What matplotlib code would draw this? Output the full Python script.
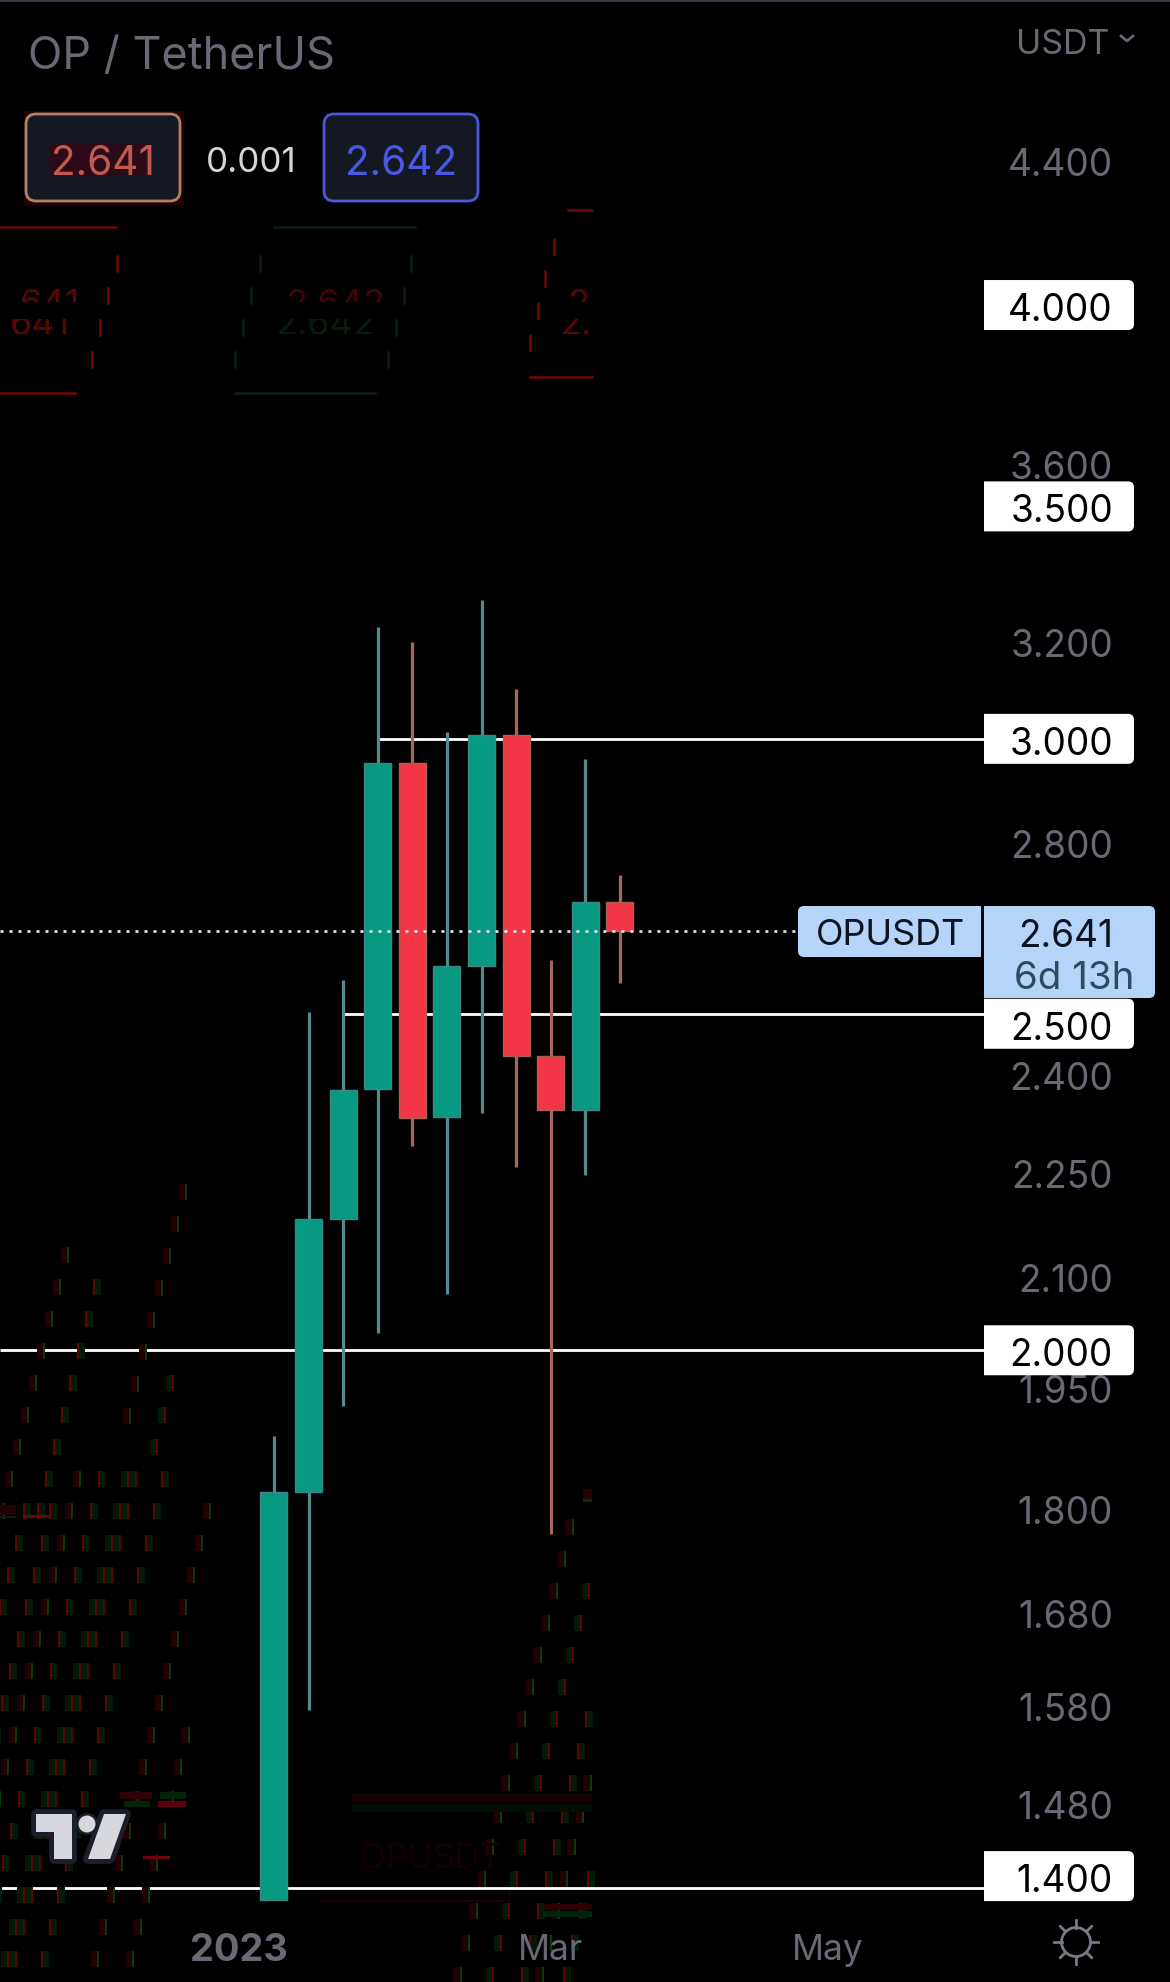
import matplotlib
matplotlib.use("Agg")
import matplotlib.pyplot as plt
from matplotlib.patches import Circle, FancyBboxPatch, PathPatch, Polygon, Rectangle
from matplotlib.path import Path
from matplotlib.transforms import Bbox

plt.rcParams['font.family'] = ['Inter', 'DejaVu Sans']

W, H = 1170, 1983

# weekly candles
idx = list(range(11))
opens = [1.389, 1.820, 2.182, 2.378, 2.953, 2.335, 2.580, 3.008, 2.431, 2.345, 2.692]
closes = [1.820, 2.182, 2.376, 2.953, 2.333, 2.580, 3.008, 2.431, 2.345, 2.692, 2.641]
highs = [1.890, 2.503, 2.556, 3.230, 3.200, 3.013, 3.290, 3.100, 2.591, 2.960, 2.741]
lows = [1.389, 1.576, 1.927, 2.023, 2.290, 2.076, 2.341, 2.258, 1.770, 2.247, 2.552]

# price axis
axis_ticks = [4.400, 3.600, 3.200, 2.800, 2.400, 2.250, 2.100, 1.950, 1.800, 1.680, 1.580, 1.480]
levels = [4.000, 3.500, 3.000, 2.500, 2.000, 1.400]
level_shift = [0, 0, 0, 10, 0, -12]      # labels pushed away by their neighbours
level_start = [None, None, 3, 2, -8, -8]  # candle where the drawn line begins
last_price = 2.641

# time axis
time_pos = [-1, 8, 16]
time_labels = ['2023', 'Mar', 'May']

GREEN = '#089981'
RED = '#f23645'
GREEN_WICK = '#55898c'
RED_WICK = '#a5695c'
GRAY = '#676a75'
LABEL_BLUE = '#b4d5f9'

fig = plt.figure(figsize=(W / 100, H / 100), dpi=100, facecolor='black')

# price chart, log scale, fills the whole picture
ax = fig.add_axes([0, 0, 1, 1], facecolor='black')
ax.set_yscale('log')
ax.set_ylim(1.3155, 4.90)
ax.set_xlim(-7.919, 25.896)
ax.axis('off')

# pixel overlay for the interface bits
ui = fig.add_axes([0, 0, 1, 1], facecolor='none')
ui.set_xlim(0, W)
ui.set_ylim(H, 0)
ui.axis('off')


def py(price):
    return H - ax.transData.transform((0, price))[1]


def fs(px):
    return px * 0.72


# ghost traces from the screenshot
GHOST_RED = '#5e0409'
GHOST_RED_DIM = '#220103'
GHOST_GREEN = '#0a3814'
GHOST_GREEN_DIM = '#021a08'

# x, y of the first tick, kind, last y
ghost_diags = [
    (23, 1512, 1, H), (49, 1512, 1, H), (79, 1480, 0, H), (98, 1480, 1, H),
    (127, 1480, 2, H), (135, 1480, 2, H), (161, 1480, 1, H), (209, 1512, 0, H),
    (67, 1256, 0, 1512), (93, 1288, 1, 1512), (185, 1193, 0, 1448), (172, 1384, 2, 1448),
    (188, 1736, 0, H),
    (572, 1528, 0, H), (588, 1592, 2, H), (585, 1720, 1, H), (590, 1784, 0, H), (587, 1880, 1, H),
]
for gx, gy, kind, y_last in ghost_diags:
    while gy < min(H - 6, y_last + 1) and gx > -8:
        if kind == 0:
            ui.add_patch(Rectangle((gx - 6, gy - 8), 6, 16, fc=GHOST_RED_DIM, ec='none', zorder=1))
            ui.add_patch(Rectangle((gx, gy - 8), 2, 16, fc=GHOST_GREEN, ec='none', zorder=1))
        elif kind == 1:
            ui.add_patch(Rectangle((gx + 2, gy - 8), 6, 16, fc=GHOST_GREEN_DIM, ec='none', zorder=1))
            ui.add_patch(Rectangle((gx, gy - 8), 2, 16, fc=GHOST_RED, ec='none', zorder=1))
        else:
            ui.add_patch(Rectangle((gx - 6, gy - 8), 6, 16, fc=GHOST_GREEN_DIM, ec='none', zorder=1))
            ui.add_patch(Rectangle((gx, gy - 8), 2, 16, fc=GHOST_RED, ec='none', zorder=1))
        gy += 32
        gx -= 8

ghost_bands = [
    (352, 592, 1794, 1804, '#120002'), (352, 592, 1805, 1813, '#000e03'),
    (120, 152, 1793, 1800, '#2c0205'), (160, 186, 1793, 1800, '#042408'),
    (124, 150, 1802, 1808, '#042408'), (158, 186, 1802, 1808, '#5a030c'),
    (143, 170, 1857, 1860, '#6a0510'), (0, 16, 1506, 1516, '#220103'),
    (23, 50, 1516, 1519, '#6a0510'), (0, 16, 1517, 1519, '#042408'),
    (543, 592, 1905, 1911, '#2c0205'), (543, 592, 1912, 1918, '#042408'),
    (583, 592, 1490, 1500, '#220103'), (583, 592, 1500, 1503, '#063010'),
]
for x0, x1, y0, y1, col in ghost_bands:
    ui.add_patch(Rectangle((x0, y0), x1 - x0, y1 - y0, fc=col, ec='none', zorder=1))

ui.plot([322, 510, 510], [1902, 1902, 1892], color='#1a0003', lw=1.2, zorder=1)
ui.text(360, 1868, 'OPUSDT', fontsize=fs(34), color='#140002', va='baseline', zorder=1)

# ghost order boxes: top line, bottom line, side dashes
ghost_boxes = [
    ([-5, 116], 228, [-5, 75], 394, [117, 108, 100, 92], '#6e0808'),
    ([274, 415], 228, [235, 375], 394, [260, 251, 243, 235, 411, 404, 396, 388], '#0a2010'),
    ([568, 592], 211, [530, 592], 378, [554, 545, 538, 530], '#6e0808'),
]
for top_x, top_y, bot_x, bot_y, dashes, col in ghost_boxes:
    ui.plot(top_x, [top_y, top_y], color=col, lw=1.8, zorder=1)
    ui.plot(bot_x, [bot_y, bot_y], color=col, lw=1.8, zorder=1)
    for k, dx in enumerate(dashes):
        dy = top_y + 29 + 32 * (k % 4)
        ui.plot([dx, dx], [dy, dy + 15], color=col, lw=1.8, zorder=1)

ghost_texts = [
    ('641', 80, 315, 288, 303, '#5a0606'), ('641', 70, 335, 320, 335, '#5a0606'),
    ('2.642', 385, 315, 288, 303, '#400606'), ('2.642', 375, 335, 320, 335, '#081c0e'),
    ('2.641', 660, 315, 288, 303, '#5a0606'), ('2.641', 652, 335, 320, 335, '#5a0606'),
]
for txt, tx, ty, c0, c1, col in ghost_texts:
    t = ui.text(tx, ty, txt, fontsize=fs(36), color=col, ha='right', va='baseline', zorder=1)
    t.set_clip_box(Bbox([[0, H - c1], [592, H - c0]]))
    t.set_clip_on(True)

# horizontal levels behind the candles
for lev, start in zip(levels, level_start):
    if start is None:
        continue
    x0 = ax.transData.inverted().transform((0, 0))[0] if start < 0 else start
    x1 = ax.transData.inverted().transform((984, 0))[0]
    ax.plot([x0, x1], [lev, lev], color='white', lw=2.0, solid_capstyle='butt', zorder=2)

# candles
body_width = 27 / 34.6
for i, o, c, h, l in zip(idx, opens, closes, highs, lows):
    up = c >= o
    ax.vlines(i, l, h, color=GREEN_WICK if up else RED_WICK, lw=2.3, zorder=3)
    ax.bar(i, abs(c - o), bottom=min(o, c), width=body_width, color=GREEN if up else RED,
           edgecolor='#3f8588' if up else '#a8604f', linewidth=1.0, zorder=4)

# last price dotted line
x_end = ax.transData.inverted().transform((796, 0))[0]
x_begin = ax.transData.inverted().transform((0, 0))[0]
ax.plot([x_begin, x_end], [last_price, last_price], color='#e9e9f2', lw=1.9,
        linestyle=(0, (1.14, 2.27)), dash_capstyle='butt', zorder=5)

# axis tick labels
for t in axis_ticks:
    ui.text(1113, py(t), f'{t:.3f}', fontsize=fs(37), color=GRAY, ha='right', va='center_baseline', zorder=6)


def right_round_box(x0, x1, y0, y1, color, r=6, left_r=0, z=7):
    verts = [(x0 + left_r, y0), (x1 - r, y0), (x1, y0), (x1, y0 + r), (x1, y1 - r), (x1, y1), (x1 - r, y1),
             (x0 + left_r, y1), (x0, y1), (x0, y1 - left_r), (x0, y0 + left_r), (x0, y0), (x0 + left_r, y0)]
    codes = [Path.MOVETO, Path.LINETO, Path.CURVE3, Path.CURVE3, Path.LINETO, Path.CURVE3, Path.CURVE3,
             Path.LINETO, Path.CURVE3, Path.CURVE3, Path.LINETO, Path.CURVE3, Path.CURVE3]
    ui.add_patch(PathPatch(Path(verts, codes), fc=color, ec='none', zorder=z))


# level labels
for lev, shift in zip(levels, level_shift):
    yc = py(lev) + shift
    right_round_box(984, 1134, yc - 25, yc + 25, 'white')
    ui.text(1113, yc + 1, f'{lev:.3f}', fontsize=fs(37), color='black', ha='right', va='center_baseline', zorder=8)

# last price labels
right_round_box(798, 981, 907, 958, LABEL_BLUE, left_r=6, r=0.1, z=9)
right_round_box(984, 1155, 907, 999, LABEL_BLUE, z=9)
ui.text(890, 932, 'OPUSDT', fontsize=fs(36), color='#0c1420', ha='center', va='center_baseline', zorder=10)
ui.text(1113, 933, f'{last_price:.3f}', fontsize=fs(37), color='#0c1420', ha='right', va='center_baseline', zorder=10)
ui.text(1134, 975, '6d 13h', fontsize=fs(38.5), color='#2b4d63', ha='right', va='center_baseline', zorder=10)

# time axis
for pos, lab in zip(time_pos, time_labels):
    x_px = ax.transData.transform((pos, 2))[0]
    ui.text(x_px, 1947, lab, fontsize=fs(38 if lab == '2023' else 35.5), color=GRAY, ha='center',
            va='center_baseline', fontweight='bold' if lab == '2023' else 'normal', zorder=6)

# header
ui.add_patch(Rectangle((0, 0), W, 2.5, fc='#363a47', ec='none', zorder=6))
ui.text(28, 52, 'OP / TetherUS', fontsize=fs(45), color=GRAY, va='center_baseline', zorder=6)
ui.text(1109, 42, 'USDT', fontsize=fs(34), color=GRAY, ha='right', va='center_baseline', zorder=6)
ui.plot([1121, 1127, 1133], [37, 42, 37], color=GRAY, lw=1.9, zorder=6)

# dark red smear round the sell box
ui.add_patch(Rectangle((24, 112), 160, 95, fc='#220005', ec='none', zorder=5))

# sell / buy boxes
for x0, x1, edge, txt, col in [(26, 180, '#b28360', '2.641', '#c05a50'), (324, 478, '#4d56dd', '2.642', '#4a58e6')]:
    ui.add_patch(FancyBboxPatch((x0 + 8, 115 + 8), x1 - x0 - 16, 87 - 16, boxstyle='round,pad=8,rounding_size=10',
                                fc='#141823', ec=edge, lw=2.0, zorder=6))
    ui.text((x0 + x1) / 2, 160, txt, fontsize=fs(40.5), color=col, ha='center', va='center_baseline', zorder=7)
ui.add_patch(Rectangle((50, 145), 102, 31, fc='#2c0a18', ec='none', zorder=6.5))
ui.text(251, 160, '0.001', fontsize=fs(35), color='#d6d6d6', ha='center', va='center_baseline', zorder=7)

# logo
LOGO = '#d6d8de'
HALO = '#1c1e2a'
logo_t = [(36, 1815), (72, 1815), (72, 1860), (54, 1860), (54, 1833), (36, 1833)]
logo_s = [(104, 1815), (126, 1815), (110, 1860), (88, 1860)]
for pts in (logo_t, logo_s):
    ui.add_patch(Polygon(pts, closed=True, fc=HALO, ec=HALO, lw=7, joinstyle='round', zorder=8))
ui.add_patch(Circle((87, 1825), 11, fc=HALO, ec='none', zorder=8))
for pts in (logo_t, logo_s):
    ui.add_patch(Polygon(pts, closed=True, fc=LOGO, ec='none', zorder=9))
ui.add_patch(Circle((87, 1825), 8.5, fc=LOGO, ec='none', zorder=9))

# sun icon
SUN = '#787b86'
sx, sy = 1076, 1943
ui.add_patch(Circle((sx, sy), 14.5, fc='none', ec=SUN, lw=2.0, zorder=6))
ray = [(0, -1), (0, 1), (1, 0), (-1, 0), (0.71, 0.71), (-0.71, 0.71), (0.71, -0.71), (-0.71, -0.71)]
for dx, dy in ray:
    ui.plot([sx + dx * 14.5, sx + dx * 22], [sy + dy * 14.5, sy + dy * 22], color=SUN, lw=2.0, zorder=6)

fig.savefig('out.png', dpi=100, facecolor='black')
